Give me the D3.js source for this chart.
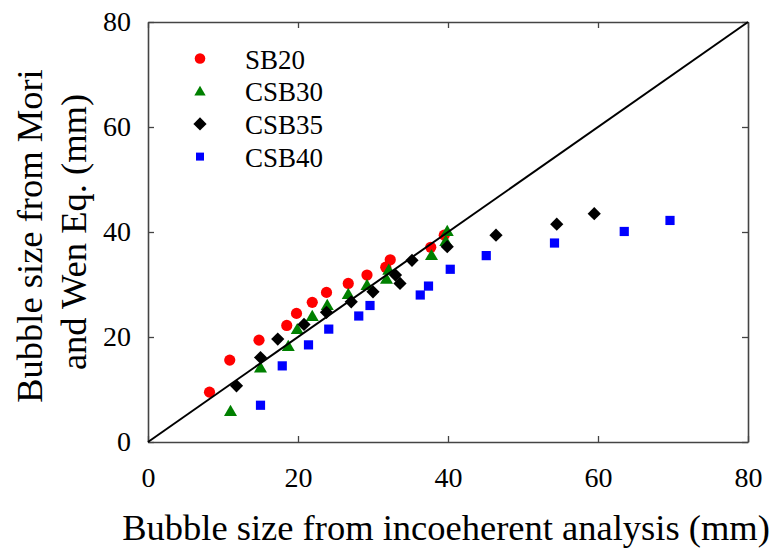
<!DOCTYPE html>
<html>
<head>
<meta charset="utf-8">
<script src="https://cdn.jsdelivr.net/npm/d3@7"></script>
<style>
  body { margin: 0; background: #fff; }
</style>
</head>
<body>
<svg id="chart" width="774" height="548"></svg>
<script>
// values
const sb20X = [8.2, 10.9, 14.8, 18.5, 19.8, 21.9, 23.8, 26.7, 29.2, 31.7, 32.3, 37.7, 39.5];
const sb20Y = [9.5, 15.6, 19.4, 22.2, 24.5, 26.6, 28.5, 30.2, 31.8, 33.3, 34.7, 37.1, 39.4];

const csb30X = [11.0, 15.0, 18.7, 19.9, 21.9, 23.9, 26.7, 29.2, 31.8, 32.1, 37.8, 39.7, 39.9];
const csb30Y = [5.9, 14.2, 18.3, 21.5, 24.0, 26.1, 28.2, 29.9, 31.1, 32.8, 35.6, 38.3, 40.2];

const csb35X = [11.8, 15.0, 17.3, 20.8, 23.8, 27.1, 30.0, 33.0, 33.6, 35.2, 39.9, 46.4, 54.5, 59.5];
const csb35Y = [10.7, 16.1, 19.6, 22.4, 24.7, 26.7, 28.6, 31.8, 30.2, 34.6, 37.2, 39.4, 41.5, 43.5];

const csb40X = [15.0, 17.9, 21.4, 24.1, 28.1, 29.6, 36.3, 37.4, 40.3, 45.1, 54.2, 63.5, 69.6];
const csb40Y = [7.0, 14.5, 18.5, 21.5, 24.0, 26.0, 28.0, 29.7, 32.9, 35.5, 37.9, 40.1, 42.2];

const seriesNames = ["SB20", "CSB30", "CSB35", "CSB40"];
const seriesColors = ["#ff0000", "#008000", "#000000", "#0000ff"];
const tickValues = [0, 20, 40, 60, 80];
const diagonal = [0, 80];

const serif = "'Liberation Serif', 'Times New Roman', serif";

const svg = d3.select("#chart").attr("font-family", serif);
const margin = { top: 22, right: 26, bottom: 106, left: 148 };
const width = +svg.attr("width") - margin.left - margin.right;
const height = +svg.attr("height") - margin.top - margin.bottom;
const g = svg.append("g")
    .attr("transform", "translate(" + margin.left + "," + margin.top + ")");

const x = d3.scaleLinear().domain([0, 80]).range([0, width]);
const y = d3.scaleLinear().domain([0, 80]).range([height, 0]);

// marker shapes
const shapes = {
    circle: (r) => d3.symbol().type(d3.symbolCircle).size(Math.PI * r * r)(),
    triangle: (r) => "M0," + (-r) + "L" + (r * 1.05) + "," + (r * 0.8) + "L" + (-r * 1.05) + "," + (r * 0.8) + "Z",
    diamond: (r) => "M0," + (-r) + "L" + r + ",0L0," + r + "L" + (-r) + ",0Z",
    square: (r) => "M" + (-r) + "," + (-r) + "H" + r + "V" + r + "H" + (-r) + "Z"
};
const seriesShapes = ["circle", "triangle", "diamond", "square"];
const markerSize = [5.6, 6.2, 6.6, 4.6];
const legendSize = [5.3, 5.4, 6.6, 4.0];

const series = [
    { xs: sb20X, ys: sb20Y },
    { xs: csb30X, ys: csb30Y },
    { xs: csb35X, ys: csb35Y },
    { xs: csb40X, ys: csb40Y }
];

// axes, ticks inward on all four sides
const axisColor = "#444";
function styleAxis(sel) {
    sel.attr("font-family", serif);
    sel.selectAll("path.domain").attr("stroke", axisColor).attr("stroke-width", 1.6);
    sel.selectAll(".tick line").attr("stroke", axisColor).attr("stroke-width", 1.3);
    sel.selectAll(".tick text")
        .style("font-family", serif)
        .style("font-size", "28px")
        .attr("fill", "#000");
}

g.append("g")
    .attr("transform", "translate(0," + height + ")")
    .call(d3.axisBottom(x).tickValues(tickValues).tickSize(-6).tickSizeOuter(0).tickPadding(25))
    .call(styleAxis);

g.append("g")
    .call(d3.axisLeft(y).tickValues(tickValues).tickSize(-6).tickSizeOuter(0).tickPadding(17))
    .call(styleAxis);

g.append("g")
    .call(d3.axisTop(x).tickValues(tickValues).tickSize(-6).tickSizeOuter(0).tickFormat(""))
    .call(styleAxis);

g.append("g")
    .attr("transform", "translate(" + width + ",0)")
    .call(d3.axisRight(y).tickValues(tickValues).tickSize(-6).tickSizeOuter(0).tickFormat(""))
    .call(styleAxis);

// points
series.forEach((s, i) => {
    g.append("g")
        .selectAll("path")
        .data(s.xs.map((v, j) => [v, s.ys[j]]))
        .join("path")
        .attr("transform", (d) => "translate(" + x(d[0]) + "," + y(d[1]) + ")")
        .attr("d", shapes[seriesShapes[i]](markerSize[i]))
        .attr("fill", seriesColors[i]);
});

// 1:1 line
g.append("line")
    .attr("x1", x(diagonal[0])).attr("y1", y(diagonal[0]))
    .attr("x2", x(diagonal[1])).attr("y2", y(diagonal[1]))
    .attr("stroke", "#000")
    .attr("stroke-width", 2);

// legend
const legend = g.append("g").attr("transform", "translate(52,36.5)");
seriesNames.forEach((name, i) => {
    const row = legend.append("g").attr("transform", "translate(0," + (i * 32.7) + ")");
    row.append("path")
        .attr("d", shapes[seriesShapes[i]](legendSize[i]))
        .attr("fill", seriesColors[i]);
    row.append("text")
        .attr("x", 45)
        .attr("y", 10)
        .style("font-family", serif)
        .style("font-size", "27px")
        .text(name);
});

// axis titles
svg.append("text")
    .attr("x", margin.left + width / 2 - 2)
    .attr("y", 540)
    .attr("text-anchor", "middle")
    .style("font-family", serif)
    .style("font-size", "36.5px")
    .text("Bubble size from incoeherent analysis (mm)");

svg.append("text")
    .attr("transform", "translate(42," + (margin.top + height / 2 + 4) + ") rotate(-90)")
    .attr("text-anchor", "middle")
    .style("font-family", serif)
    .style("font-size", "36.5px")
    .text("Bubble size from Mori");

svg.append("text")
    .attr("transform", "translate(86," + (margin.top + height / 2) + ") rotate(-90)")
    .attr("text-anchor", "middle")
    .style("font-family", serif)
    .style("font-size", "36.5px")
    .text("and Wen Eq. (mm)");
</script>
</body>
</html>
